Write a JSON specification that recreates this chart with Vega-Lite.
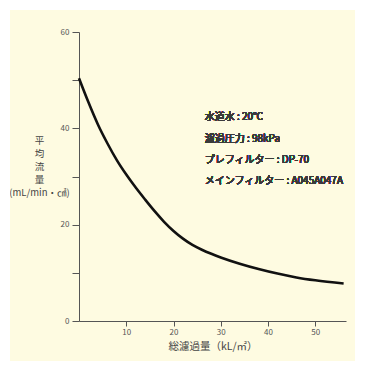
{
  "$schema": "https://vega.github.io/schema/vega-lite/v6.json",
  "width": 267,
  "height": 289,
  "autosize": {"type": "none"},
  "padding": {"left": 79, "top": 32, "right": 19, "bottom": 50},
  "background": "#fefbe1",
  "config": {
    "view": {"stroke": null},
    "font": "Noto Sans CJK JP",
    "axis": {
      "grid": false,
      "domainColor": "#555",
      "tickColor": "#555",
      "labelColor": "#555",
      "labelFont": "Noto Sans CJK JP",
      "titleFont": "Noto Sans CJK JP",
      "labelFontSize": 8,
      "titleColor": "#444",
      "titleFontWeight": "normal"
    }
  },
  "data": {
    "values": [
      {"x": 0, "y": 50.4},
      {"x": 2, "y": 45.4},
      {"x": 4, "y": 40.8},
      {"x": 6, "y": 36.9},
      {"x": 8, "y": 33.4},
      {"x": 10, "y": 30.4},
      {"x": 12, "y": 27.7},
      {"x": 14, "y": 25.2},
      {"x": 16, "y": 22.8},
      {"x": 18, "y": 20.6},
      {"x": 20, "y": 18.7},
      {"x": 22, "y": 17.1},
      {"x": 24, "y": 15.8},
      {"x": 26, "y": 14.8},
      {"x": 28, "y": 13.95},
      {"x": 30, "y": 13.2},
      {"x": 34, "y": 11.9},
      {"x": 38, "y": 10.8},
      {"x": 42, "y": 9.85},
      {"x": 46, "y": 9.05},
      {"x": 50, "y": 8.45},
      {"x": 56, "y": 7.8}
    ]
  },
  "layer": [
    {
      "mark": {"type": "line", "color": "#111", "strokeWidth": 2.6, "interpolate": "monotone"},
      "encoding": {
        "x": {
          "field": "x",
          "type": "quantitative",
          "scale": {"domain": [0, 56.5], "nice": false, "zero": false},
          "axis": {
            "values": [10, 20, 30, 40, 50],
            "tickSize": 5,
            "labelPadding": 2,
            "title": "総濾過量（kL/㎡）",
            "titleFontSize": 10.5,
            "titlePadding": 5
          }
        },
        "y": {
          "field": "y",
          "type": "quantitative",
          "scale": {"domain": [0, 60], "nice": false},
          "axis": {
            "values": [0, 10, 20, 30, 40, 50, 60],
            "labelExpr": "datum.value % 20 == 0 ? datum.label : ''",
            "tickSize": 7,
            "labelPadding": 3,
            "title": ["平", "均", "流", "量", "(mL/min・㎠)"],
            "titleAngle": 0,
            "titleAlign": "center",
            "titleBaseline": "top",
            "titleX": -40,
            "titleY": 103,
            "titleFontSize": 9.5,
            "titleLineHeight": 13
          }
        }
      }
    },
    {
      "mark": {
        "type": "text",
        "align": "left",
        "baseline": "middle",
        "fontSize": 10,
        "color": "#3a3a3a",
        "lineHeight": 21.3
      },
      "encoding": {
        "x": {"datum": 26.6, "type": "quantitative"},
        "y": {"datum": 42.3, "type": "quantitative"},
        "text": {"value": ["水道水 : 20℃", "濾過圧力 : 98kPa", "プレフィルター : DP-70", "メインフィルター : A045A047A"]}
      }
    },
    {
      "mark": {"type": "rect", "fill": null, "fillOpacity": 0, "stroke": "white", "strokeWidth": 20, "clip": false},
      "encoding": {
        "x": {"datum": -16.72, "type": "quantitative"},
        "x2": {"datum": 60.52},
        "y": {"datum": 66.64, "type": "quantitative"},
        "y2": {"datum": -10.38}
      }
    }
  ]
}
